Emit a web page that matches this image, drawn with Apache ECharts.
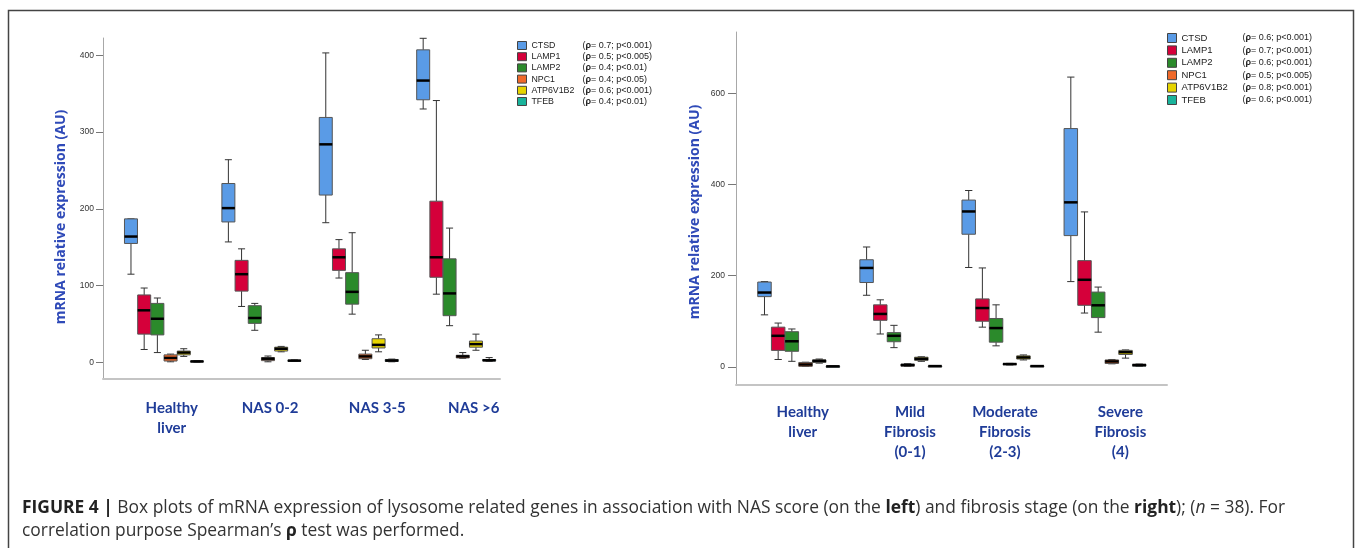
<!DOCTYPE html>
<html>
<head>
<meta charset="utf-8">
<title>Lysosome genes - box plots</title>
<script src="https://cdn.jsdelivr.net/npm/echarts@6/dist/echarts.min.js"></script>
<style>
  html, body { margin: 0; padding: 0; background: #fff; }
  #main { width: 1358px; height: 548px; }
</style>
</head>
<body>
<div id="main"></div>
<script>
// groups on the x axis
var nasGroups = ['Healthy\nliver', 'NAS 0-2', 'NAS 3-5', 'NAS >6'];
var fibGroups = ['Healthy\nliver', 'Mild\nFibrosis\n(0-1)', 'Moderate\nFibrosis\n(2-3)', 'Severe\nFibrosis\n(4)'];
var genes = ['CTSD', 'LAMP1', 'LAMP2', 'NPC1', 'ATP6V1B2', 'TFEB'];
var geneColors = ['#5a9be6', '#d5003a', '#2b8a2b', '#f0692a', '#e6d400', '#19b39b'];
var nasRho = ['0.7; p<0.001', '0.5; p<0.005', '0.4; p<0.01', '0.4; p<0.05', '0.6; p<0.001', '0.4; p<0.01'];
var fibRho = ['0.6; p<0.001', '0.7; p<0.001', '0.6; p<0.001', '0.5; p<0.005', '0.8; p<0.001', '0.6; p<0.001'];
var nasTicks = [0, 100, 200, 300, 400];
var fibTicks = [0, 200, 400, 600];

// box stats per group: [min, Q1, median, Q3, max] -- NAS score
var nasCTSD  = [[115, 155, 164, 187, 187], [157, 183, 201, 233, 264], [182, 218, 284, 319, 403], [330, 342, 367, 407, 422]];
var nasLAMP1 = [[17, 37, 68, 88, 97], [73, 93, 115, 133, 148], [110, 120, 137, 148, 160], [89, 111, 137, 210, 341]];
var nasLAMP2 = [[13, 36, 57, 77, 84], [42, 51, 58, 74, 77], [63, 76, 92, 117, 169], [48, 61, 90, 135, 175]];
var nasNPC1  = [[1, 2, 6, 10, 11], [1, 2.5, 5, 6.5, 8.5], [4, 5, 8, 11, 16], [5.5, 6, 8, 9.5, 13]];
var nasATP   = [[8, 10, 13, 15, 18], [14, 15, 18, 20, 21], [14, 19, 23, 31, 36], [16, 20, 24, 28, 37]];
var nasTFEB  = [[0.5, 1, 1.5, 2, 2.5], [1.5, 2, 2.5, 3, 3.5], [1, 1.5, 2.6, 4, 4.5], [1.5, 2, 3, 4, 6.5]];

// box stats per group: [min, Q1, median, Q3, max] -- fibrosis stage
var fibCTSD  = [[114, 154, 163, 186, 187], [157, 185, 217, 235, 263], [218, 291, 341, 366, 387], [187, 288, 361, 523, 636]];
var fibLAMP1 = [[16, 36, 68, 87, 96], [72, 102, 116, 136, 147], [87, 100, 129, 149, 217], [118, 135, 191, 233, 340]];
var fibLAMP2 = [[12, 34, 56, 77, 83], [42, 55, 68, 75, 91], [46, 54, 85, 106, 136], [76, 108, 135, 164, 175]];
var fibNPC1  = [[0.7, 1, 5, 9.5, 10], [1, 1.5, 3.7, 6, 7], [4, 4.5, 6, 7, 7.5], [6.5, 7.3, 11.7, 15, 16]];
var fibATP   = [[8, 9.5, 13, 15, 17], [12, 14, 17.5, 21, 22], [15, 17, 20.5, 24, 26], [19, 27, 32, 36, 37]];
var fibTFEB  = [[0.5, 0.8, 1, 1.3, 1.5], [1, 1.2, 1.5, 1.8, 2], [0.5, 1, 1.5, 2, 2.5], [1, 1.5, 3.7, 5.5, 6]];

var nasData = [nasCTSD, nasLAMP1, nasLAMP2, nasNPC1, nasATP, nasTFEB];
var fibData = [fibCTSD, fibLAMP1, fibLAMP2, fibNPC1, fibATP, fibTFEB];

// where the group labels sit (in group units) -- they are a bit off-centre in the figure
var nasLabelPos = [0.08, 1.09, 2.19, 3.18];
var fibLabelPos = [0.04, 1.09, 2.02, 3.15];

var titleBlue = '#2f4ab8';
var labelBlue = '#1f3c98';

function makeSeries(dataList, axisIdx, step, boxW) {
    return dataList.map(function (rows, k) {
        return {
            type: 'custom',
            name: genes[k],
            xAxisIndex: axisIdx,
            yAxisIndex: axisIdx,
            itemStyle: { color: geneColors[k] },
            encode: { x: 0, y: [1, 2, 3, 4, 5] },
            data: rows.map(function (r, i) { return [i].concat(r); }),
            renderItem: function (params, api) {
                var x = api.value(0) + (k - 2.5) * step;
                var lo = api.coord([x, api.value(1)]);
                var q1 = api.coord([x, api.value(2)]);
                var md = api.coord([x, api.value(3)]);
                var q3 = api.coord([x, api.value(4)]);
                var hi = api.coord([x, api.value(5)]);
                var w = api.size([boxW, 0])[0];
                var cx = lo[0];
                var cap = w * 0.27;
                var whisk = { stroke: '#333', lineWidth: 1 };
                return {
                    type: 'group',
                    children: [
                        { type: 'line', shape: { x1: cx, y1: hi[1], x2: cx, y2: q3[1] }, style: whisk },
                        { type: 'line', shape: { x1: cx, y1: q1[1], x2: cx, y2: lo[1] }, style: whisk },
                        { type: 'line', shape: { x1: cx - cap, y1: hi[1], x2: cx + cap, y2: hi[1] }, style: whisk },
                        { type: 'line', shape: { x1: cx - cap, y1: lo[1], x2: cx + cap, y2: lo[1] }, style: whisk },
                        { type: 'rect', shape: { x: cx - w / 2, y: q3[1], width: w, height: Math.max(q1[1] - q3[1], 1) },
                          style: { fill: api.visual('color'), stroke: '#555', lineWidth: 1 } },
                        { type: 'line', shape: { x1: cx - w / 2, y1: md[1], x2: cx + w / 2, y2: md[1] },
                          style: { stroke: '#000', lineWidth: 2.5 } }
                    ]
                };
            }
        };
    });
}

function legendFmt(rho) {
    return function (name) {
        var i = genes.indexOf(name);
        return '{n|' + name + '}{r|(}{b|\u03c1}{r|= ' + rho[i] + ')}';
    };
}

function legendRich(nameW, fs, rfs) {
    return {
        n: { width: nameW, fontSize: fs, fontFamily: 'Liberation Sans', color: '#222' },
        r: { fontSize: rfs, fontFamily: 'Liberation Sans', color: '#222' },
        b: { fontSize: rfs, fontFamily: 'Liberation Sans', fontWeight: 'bold', color: '#222' }
    };
}

var tickLabel = { fontSize: 8.5, fontFamily: 'Liberation Sans', color: '#333' };

var myChart = echarts.init(document.getElementById('main'));
myChart.setOption({
    animation: false,
    backgroundColor: '#fff',
    grid: [
        { left: 103, top: 38, width: 397, height: 341 },
        { left: 736, top: 32, width: 431, height: 353 }
    ],
    xAxis: [
        {
            gridIndex: 0, type: 'value', min: -0.626, max: 3.45,
            splitLine: { show: false }, axisTick: { show: false },
            axisLine: { onZero: false, lineStyle: { color: '#c4c4c4', width: 2 } },
            axisLabel: {
                customValues: nasLabelPos, margin: 19,
                formatter: function (v) { return nasGroups[Math.round(v)]; },
                fontFamily: 'Lato', fontWeight: 'bold', fontSize: 15, lineHeight: 20, color: labelBlue
            }
        },
        {
            gridIndex: 1, type: 'value', min: -0.614, max: 3.607,
            splitLine: { show: false }, axisTick: { show: false },
            axisLine: { onZero: false, lineStyle: { color: '#c4c4c4', width: 2 } },
            axisLabel: {
                customValues: fibLabelPos, margin: 17,
                formatter: function (v) { return fibGroups[Math.round(v)]; },
                fontFamily: 'Lato', fontWeight: 'bold', fontSize: 15, lineHeight: 20, color: labelBlue
            }
        }
    ],
    yAxis: [
        {
            gridIndex: 0, type: 'value', min: -21.4, max: 422.4,
            splitLine: { show: false },
            axisLine: { show: true, onZero: false, lineStyle: { color: '#a8a8a8', width: 1 } },
            axisTick: { show: true, customValues: nasTicks, length: 7, lineStyle: { color: '#777' } },
            axisLabel: Object.assign({ customValues: nasTicks, margin: 9 }, tickLabel),
            name: 'mRNA relative expression (AU)', nameLocation: 'middle', nameGap: 35, nameRotate: 90,
            nameTextStyle: { fontFamily: 'Open Sans', fontWeight: 'bold', fontSize: 14, color: titleBlue, padding: [0, 17, 0, 0] }
        },
        {
            gridIndex: 1, type: 'value', min: -40, max: 735,
            splitLine: { show: false },
            axisLine: { show: true, onZero: false, lineStyle: { color: '#a8a8a8', width: 1 } },
            axisTick: { show: true, customValues: fibTicks, length: 8, lineStyle: { color: '#777' } },
            axisLabel: Object.assign({ customValues: fibTicks, margin: 11 }, tickLabel),
            name: 'mRNA relative expression (AU)', nameLocation: 'middle', nameGap: 34, nameRotate: 90,
            nameTextStyle: { fontFamily: 'Open Sans', fontWeight: 'bold', fontSize: 14, color: titleBlue, padding: [0, 7, 0, 0] }
        }
    ],
    legend: [
        {
            data: genes, orient: 'vertical', left: 517, top: 41, padding: 0, selectedMode: false,
            icon: 'rect', itemWidth: 9, itemHeight: 8, itemGap: 2.2,
            itemStyle: { borderColor: '#444', borderWidth: 1 },
            formatter: legendFmt(nasRho),
            textStyle: { rich: legendRich(51, 8.8, 9) }
        },
        {
            data: genes, orient: 'vertical', left: 1167, top: 33, padding: 0, selectedMode: false,
            icon: 'rect', itemWidth: 9, itemHeight: 9, itemGap: 2.4,
            itemStyle: { borderColor: '#444', borderWidth: 1 },
            formatter: legendFmt(fibRho),
            textStyle: { rich: legendRich(61, 9.5, 9) }
        }
    ],
    graphic: [
        {
            type: 'rect', silent: true, z: -10,
            shape: { x: 8.5, y: 10.5, width: 1345, height: 600 },
            style: { fill: 'none', stroke: '#444', lineWidth: 1.5 }
        },
        {
            type: 'text', left: 22, top: 497, silent: true,
            style: {
                text: '{b|FIGURE 4 |} Box plots of mRNA expression of lysosome related genes in association with NAS score (on the {b|left}) and fibrosis stage (on the {b|right}); ({i|n} = 38). For\ncorrelation purpose Spearman\u2019s {b|\u03c1} test was performed.',
                fontFamily: 'Open Sans', fontSize: 17.4, fill: '#333', lineHeight: 23,
                rich: {
                    b: { fontFamily: 'Open Sans', fontSize: 17.4, fontWeight: 'bold', fill: '#222', lineHeight: 23 },
                    i: { fontFamily: 'Open Sans', fontSize: 17.4, fontStyle: 'italic', fill: '#333', lineHeight: 23 }
                }
            }
        }
    ],
    series: makeSeries(nasData, 0, 0.1355, 0.1335).concat(makeSeries(fibData, 1, 0.134, 0.132))
});
</script>
</body>
</html>
